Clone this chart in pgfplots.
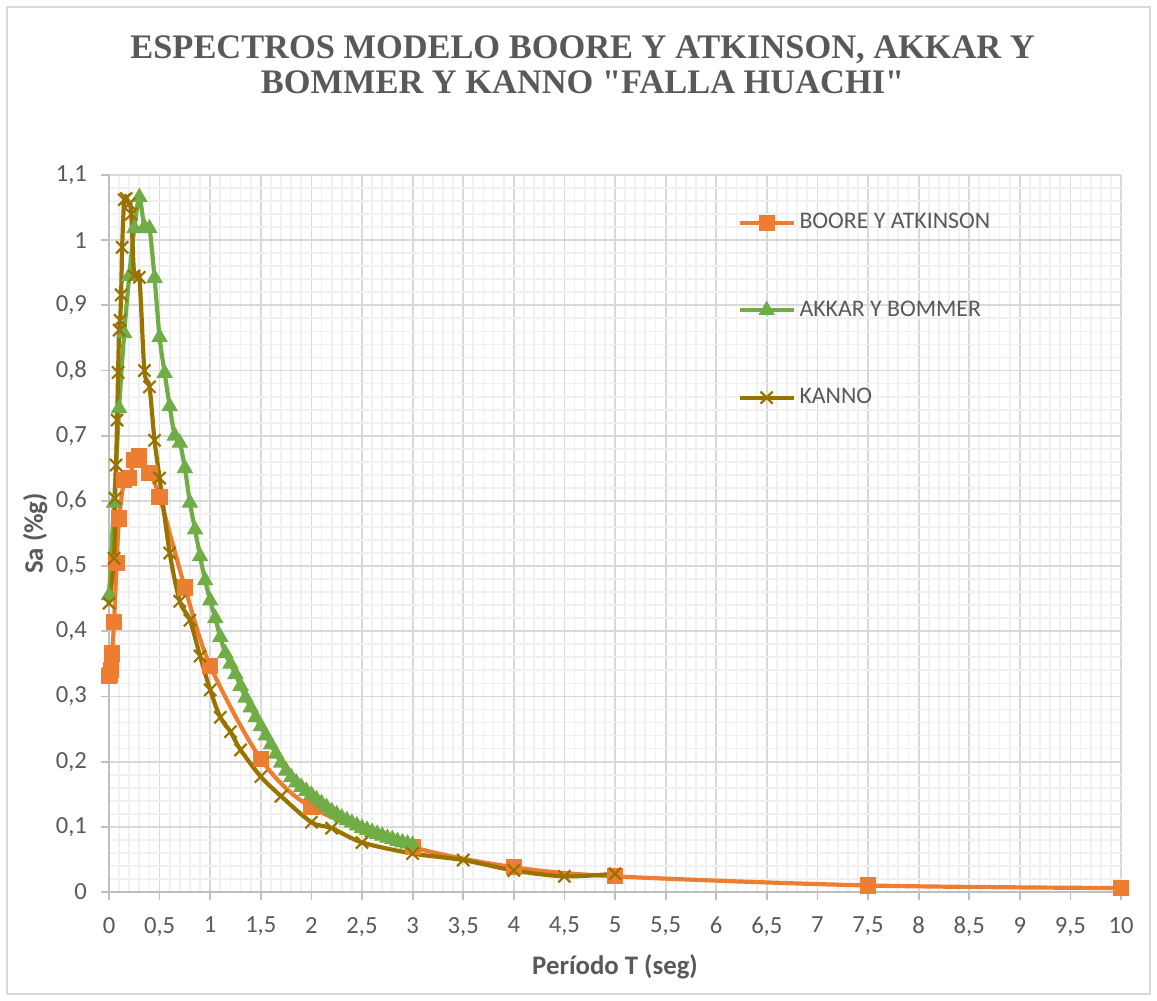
\documentclass[border=0pt]{standalone}
\usepackage{fontspec}
\setmainfont{Carlito}
\newfontfamily\titlefont{Liberation Serif}
\usepackage{pgfplots}
\pgfplotsset{compat=1.18}
\definecolor{txt}{HTML}{595959}
\definecolor{c1}{HTML}{ED7D31}
\definecolor{c2}{HTML}{70AD47}
\definecolor{c3}{HTML}{997300}
\definecolor{gmaj}{HTML}{D9D9D9}
\definecolor{gmin}{HTML}{F0F0F0}
\definecolor{axc}{HTML}{BFBFBF}
\begin{document}
\begin{tikzpicture}
\begin{axis}[
 scale only axis, width=506pt, height=358.5pt,
 xmin=0, xmax=10, ymin=0, ymax=1.1,
 xtick={0,0.5,1,1.5,2,2.5,3,3.5,4,4.5,5,5.5,6,6.5,7,7.5,8,8.5,9,9.5,10},
 ytick={0,0.1,0.2,0.3,0.4,0.5,0.6,0.7,0.8,0.9,1,1.1},
 minor x tick num=4, minor y tick num=4,
 grid=both,
 major grid style={gmaj, line width=0.9pt},
 minor grid style={gmin, line width=0.9pt},
 axis x line*=bottom, axis y line*=left,
 axis line style={axc, line width=0.9pt},
 tick align=outside, major tick length=4pt, minor tick length=0pt,
 tick style={axc, line width=0.9pt},
 /pgf/number format/.cd, use comma, 1000 sep={}, assume math mode=true, /pgfplots/.cd,
 ticklabel style={font=\fontsize{12.3}{14}\selectfont, text=txt},
 xticklabel style={yshift=-5pt},
 yticklabel style={xshift=-3.5pt},
 xlabel={Período T (seg)},
 xlabel style={font=\bfseries\fontsize{13.4}{15}\selectfont, text=txt, at={(axis description cs:0.5,-0.1046)}, anchor=center},
 ylabel={Sa (\%g)},
 ylabel style={font=\bfseries\fontsize{13.4}{15}\selectfont, text=txt, at={(axis description cs:-0.073,0.5)}, anchor=center},
 title={ESPECTROS MODELO BOORE Y ATKINSON, AKKAR Y\\BOMMER Y KANNO "FALLA HUACHI"},
 title style={font=\titlefont\bfseries\fontsize{17.2}{17.5}\selectfont, text=txt, align=center, at={(axis description cs:0.468,1.137)}, anchor=center},
 legend style={at={(axis description cs:0.6156,0.958)}, anchor=north west, draw=none, fill=none, font=\fontsize{11.9}{14}\selectfont, text=txt, row sep=30.5pt, cells={anchor=west}},
 legend image code/.code={\draw[mark repeat=2,mark phase=2,#1] plot coordinates {(0cm,0cm) (0.46cm,0cm) (0.93cm,0cm)};},
 clip=false,
]
\addplot[c1, line width=2.1pt, smooth, mark=square*, mark size=3.8pt, mark options={solid, fill=c1, line width=0.5pt}] coordinates {
(0,0.331) (0.01,0.333) (0.02,0.340) (0.03,0.366) (0.05,0.414) (0.075,0.505) (0.1,0.573) (0.15,0.632) (0.2,0.635) (0.25,0.663) (0.3,0.668) (0.4,0.643) (0.5,0.606) (0.75,0.467) (1.0,0.347) (1.5,0.204) (2.0,0.130) (3.0,0.069) (4.0,0.038) (5.0,0.024) (7.5,0.010) (10,0.006)};
\addlegendentry{BOORE Y ATKINSON}
\addplot[c2, line width=2.1pt, smooth, mark=triangle*, mark size=4.3pt, mark options={solid, fill=c2, line width=0.5pt}] coordinates {
(0,0.455) (0.05,0.597) (0.1,0.742) (0.15,0.857) (0.2,0.945) (0.25,1.018) (0.3,1.066) (0.35,1.02) (0.4,1.018) (0.45,0.942) (0.5,0.851) (0.55,0.796) (0.6,0.745) (0.65,0.700) (0.7,0.689) (0.75,0.650) (0.8,0.597) (0.85,0.556) (0.9,0.515) (0.95,0.478) (1.0,0.447) (1.05,0.420) (1.1,0.391) (1.15,0.366) (1.2,0.350) (1.25,0.334) (1.3,0.316) (1.35,0.298) (1.4,0.283) (1.45,0.268) (1.5,0.254) (1.55,0.240) (1.6,0.226) (1.65,0.212) (1.7,0.198) (1.75,0.186) (1.8,0.176) (1.85,0.168) (1.9,0.161) (1.95,0.155) (2.0,0.149) (2.05,0.142) (2.1,0.136) (2.15,0.130) (2.2,0.124) (2.25,0.119) (2.3,0.114) (2.35,0.110) (2.4,0.106) (2.45,0.102) (2.5,0.098) (2.55,0.095) (2.6,0.092) (2.65,0.089) (2.7,0.086) (2.75,0.083) (2.8,0.081) (2.85,0.078) (2.9,0.076) (2.95,0.074) (3.0,0.072)};
\addlegendentry{AKKAR Y BOMMER}
\addplot[c3, line width=2.1pt, smooth, mark=x, mark size=4.3pt, mark options={solid, line width=1.1pt}] coordinates {
(0,0.443) (0.05,0.512) (0.06,0.604) (0.07,0.655) (0.08,0.724) (0.09,0.797) (0.1,0.862) (0.11,0.877) (0.12,0.916) (0.13,0.989) (0.15,1.062) (0.17,1.064) (0.2,1.056) (0.22,1.04) (0.25,0.945) (0.3,0.943) (0.35,0.800) (0.4,0.775) (0.45,0.693) (0.5,0.635) (0.6,0.520) (0.7,0.446) (0.8,0.417) (0.9,0.362) (1.0,0.310) (1.1,0.268) (1.2,0.246) (1.3,0.218) (1.5,0.177) (1.7,0.147) (2.0,0.107) (2.2,0.098) (2.5,0.076) (3.0,0.059) (3.5,0.049) (4.0,0.033) (4.5,0.024) (5.0,0.028)};
\addlegendentry{KANNO}
\end{axis}
\pgfresetboundingbox
\draw[gmaj, line width=0.8pt] (-51pt,-51pt) rectangle (520.5pt,442.5pt);
\path[use as bounding box] (-54.5pt,-54.5pt) rectangle (524pt,446pt);
\end{tikzpicture}
\end{document}
